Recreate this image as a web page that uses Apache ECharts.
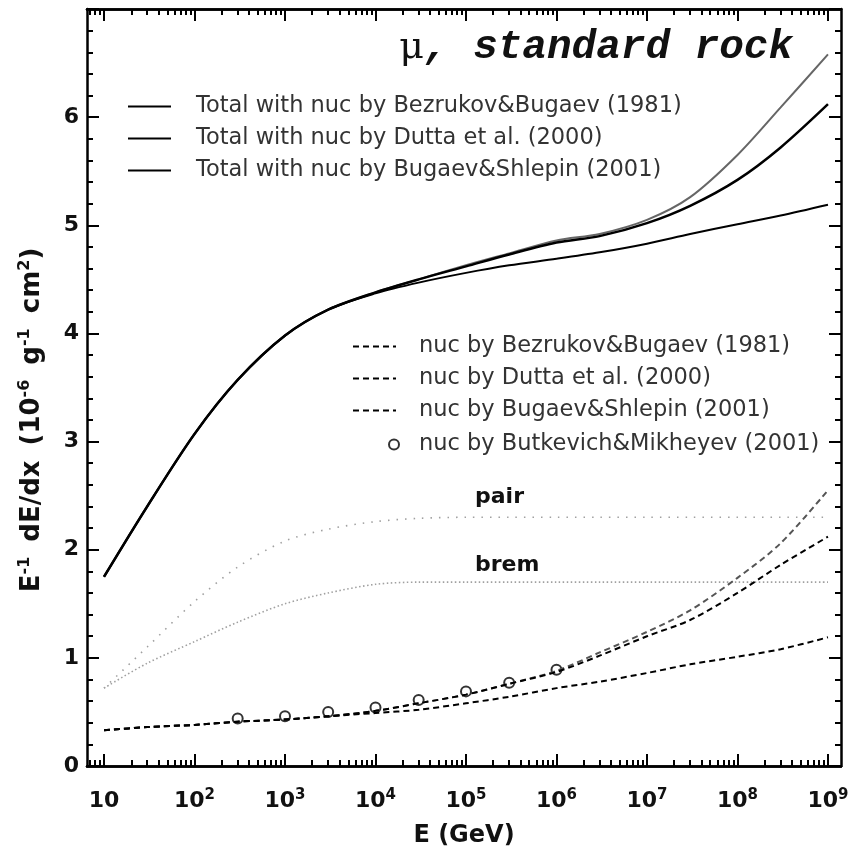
<!DOCTYPE html>
<html>
<head>
<meta charset="utf-8">
<title>mu, standard rock</title>
<script src="https://cdn.jsdelivr.net/npm/echarts@6/dist/echarts.min.js"></script>
<style>
  html, body { margin: 0; padding: 0; background: #fff; }
  #chart { width: 852px; height: 849px; }
</style>
</head>
<body>
<div id="chart"></div>
<script>
// energies (GeV) shared by all curves
var energyGeV = [1e1, 3e1, 1e2, 3e2, 1e3, 3e3, 1e4, 3e4, 1e5, 3e5, 1e6, 3e6, 1e7, 3e7, 1e8, 3e8, 1e9];

// totals  (10^-6 g^-1 cm^2)
var totalBezrukov = [1.75, 2.40, 3.07, 3.57, 3.98, 4.22, 4.38, 4.50, 4.63, 4.74, 4.86, 4.92, 5.05, 5.26, 5.65, 6.09, 6.58];
var totalDutta    = [1.75, 2.40, 3.07, 3.57, 3.98, 4.22, 4.38, 4.50, 4.62, 4.73, 4.84, 4.90, 5.02, 5.18, 5.42, 5.72, 6.12];
var totalBugaev   = [1.75, 2.40, 3.07, 3.57, 3.98, 4.22, 4.37, 4.47, 4.56, 4.63, 4.69, 4.75, 4.83, 4.92, 5.01, 5.09, 5.19];

// photonuclear parts
var nucBezrukov = [0.33, 0.36, 0.38, 0.41, 0.43, 0.46, 0.51, 0.58, 0.66, 0.76, 0.88, 1.05, 1.24, 1.44, 1.74, 2.06, 2.55];
var nucDutta    = [0.33, 0.36, 0.38, 0.41, 0.43, 0.46, 0.51, 0.58, 0.66, 0.76, 0.87, 1.02, 1.20, 1.35, 1.60, 1.86, 2.12];
var nucBugaev   = [0.33, 0.36, 0.38, 0.41, 0.43, 0.46, 0.49, 0.52, 0.58, 0.64, 0.72, 0.78, 0.86, 0.94, 1.01, 1.08, 1.19];

// pair production and bremsstrahlung
var pairLoss = [0.72, 1.10, 1.52, 1.84, 2.08, 2.19, 2.26, 2.29, 2.30, 2.30, 2.30, 2.30, 2.30, 2.30, 2.30, 2.30, 2.30];
var bremLoss = [0.72, 0.95, 1.15, 1.33, 1.50, 1.60, 1.68, 1.70, 1.70, 1.70, 1.70, 1.70, 1.70, 1.70, 1.70, 1.70, 1.70];

// Butkevich&Mikheyev points
var butkevichE   = [3e2, 1e3, 3e3, 1e4, 3e4, 1e5, 3e5, 1e6];
var butkevichVal = [0.44, 0.46, 0.50, 0.54, 0.61, 0.69, 0.77, 0.89];

// axis ticks
var decadeTicks = [1, 2, 3, 4, 5, 6, 7, 8, 9];
var xMin = 0.812, xMax = 9.144;

var totalNames = ['Total with nuc by Bezrukov&Bugaev (1981)', 'Total with nuc by Dutta et al. (2000)', 'Total with nuc by Bugaev&Shlepin (2001)'];
var nucNames = ['nuc by Bezrukov&Bugaev (1981)', 'nuc by Dutta et al. (2000)', 'nuc by Bugaev&Shlepin (2001)'];
var pointName = 'nuc by Butkevich&Mikheyev (2001)';

function toPairs(es, vals) {
    var out = [];
    for (var i = 0; i < es.length; i++) {
        out.push([Math.log10(es[i]), vals[i]]);
    }
    return out;
}

// minor ticks 2..9 x 10^k
var minorTicks = [];
for (var k = 0; k <= 9; k++) {
    for (var m = 2; m <= 9; m++) {
        var lv = Math.log10(m * Math.pow(10, k));
        if (lv > xMin && lv < xMax) minorTicks.push(lv);
    }
}

var font = 'DejaVu Sans';
var axisLine = {show: true, lineStyle: {color: '#000', width: 2.5}};

function xAxisDef(pos, ticks, len, withLabels) {
    return {
        type: 'value', position: pos, min: xMin, max: xMax,
        axisLine: axisLine,
        splitLine: {show: false},
        axisTick: {show: true, inside: true, length: len, customValues: ticks, lineStyle: {color: '#000', width: 2}},
        axisLabel: withLabels ? {
            show: true, customValues: decadeTicks, margin: 22,
            formatter: function (v) {
                var p = Math.round(v);
                return p === 1 ? '{b|10}' : '{b|10}{s|' + p + '}';
            },
            rich: {
                b: {fontFamily: font, fontWeight: 'bold', fontSize: 22, lineHeight: 26, color: '#111'},
                s: {fontFamily: font, fontWeight: 'bold', fontSize: 15, lineHeight: 15, verticalAlign: 'top', color: '#111'}
            }
        } : {show: false}
    };
}

function yAxisDef(pos, withLabels) {
    return {
        type: 'value', position: pos, min: 0, max: 7, interval: 1,
        axisLine: axisLine,
        splitLine: {show: false},
        axisTick: {show: true, inside: true, length: 12, lineStyle: {color: '#000', width: 2}},
        minorTick: {show: true, splitNumber: 5, length: 6, lineStyle: {color: '#000', width: 2}},
        axisLabel: withLabels ? {
            show: true, margin: 8, fontFamily: font, fontWeight: 'bold', fontSize: 22, color: '#111',
            showMaxLabel: false
        } : {show: false}
    };
}

var xAxes = [
    xAxisDef('bottom', decadeTicks, 12, true),
    xAxisDef('bottom', minorTicks, 6, false),
    xAxisDef('top', decadeTicks, 12, false),
    xAxisDef('top', minorTicks, 6, false)
];
xAxes[0].name = 'E (GeV)';
xAxes[0].nameLocation = 'middle';
xAxes[0].nameGap = 58;
xAxes[0].nameTextStyle = {fontFamily: font, fontWeight: 'bold', fontSize: 24, color: '#111'};

function lineSeries(name, data, color, width, type) {
    return {
        name: name, type: 'line', data: toPairs(energyGeV, data),
        symbol: 'none', showSymbol: false, smooth: 0.3,
        lineStyle: {color: color, width: width, type: type},
        itemStyle: {color: color},
        silent: true, animation: false
    };
}

var series = [
    lineSeries('pair', pairLoss, '#a0a0a0', 1.6, [1.5, 7]),
    lineSeries('brem', bremLoss, '#a0a0a0', 1.6, [1.5, 2.5]),
    lineSeries(nucNames[0], nucBezrukov, '#555', 2, [6, 4]),
    lineSeries(nucNames[1], nucDutta, '#000', 2, [6, 4]),
    lineSeries(nucNames[2], nucBugaev, '#000', 2, [6, 4]),
    lineSeries(totalNames[0], totalBezrukov, '#666', 2, 'solid'),
    lineSeries(totalNames[1], totalDutta, '#000', 2.5, 'solid'),
    lineSeries(totalNames[2], totalBugaev, '#000', 2, 'solid'),
    {
        name: pointName, type: 'scatter', data: toPairs(butkevichE, butkevichVal),
        symbol: 'emptyCircle', symbolSize: 10,
        itemStyle: {color: '#000', borderWidth: 1.5},
        animation: false
    }
];

var legendText = {fontFamily: font, fontSize: 22.5, lineHeight: 25, color: '#333'};

var supStyle = {fontFamily: font, fontWeight: 'bold', fontSize: 16, lineHeight: 16, verticalAlign: 'top', fill: '#111', color: '#111'};

var option = {
    backgroundColor: '#fff',
    animation: false,
    grid: {left: 87, top: 9, width: 754, height: 757, outerBoundsMode: 'none', containLabel: false},
    xAxis: xAxes,
    yAxis: [yAxisDef('left', true), yAxisDef('right', false)],
    legend: [
        {
            data: totalNames, orient: 'vertical', left: 127, top: 94, padding: 0,
            itemWidth: 43, itemHeight: 14, itemGap: 7, selectedMode: false,
            itemStyle: {opacity: 0},
            lineStyle: {color: '#000', width: 2},
            textStyle: Object.assign({padding: [0, 0, 0, 20]}, legendText)
        },
        {
            data: nucNames, orient: 'vertical', left: 352, top: 334, padding: 0,
            itemWidth: 43, itemHeight: 14, itemGap: 7, selectedMode: false,
            itemStyle: {opacity: 0},
            lineStyle: {color: '#000', width: 2},
            textStyle: Object.assign({padding: [0, 0, 0, 18]}, legendText)
        },
        {
            data: [pointName], orient: 'vertical', left: 388, top: 432, padding: 0,
            itemWidth: 10, itemHeight: 10, selectedMode: false,
            textStyle: Object.assign({padding: [0, 0, 0, 15]}, legendText)
        }
    ],
    graphic: [
        {
            type: 'text', x: 793, y: 48, z: 10,
            style: {
                text: '{m|\u03bc}{c|, standard rock}',
                align: 'right', textAlign: 'right', verticalAlign: 'middle', textVerticalAlign: 'middle',
                rich: {
                    m: {fontFamily: 'DejaVu Serif', fontSize: 38, fill: '#111', color: '#111'},
                    c: {fontFamily: 'Liberation Mono', fontWeight: 'bold', fontStyle: 'italic', fontSize: 41, fill: '#111', color: '#111'}
                }
            }
        },
        {
            type: 'text', x: 475, y: 497, z: 10,
            style: {text: 'pair', font: 'bold 22px "DejaVu Sans"', fill: '#111', verticalAlign: 'middle', textVerticalAlign: 'middle'}
        },
        {
            type: 'text', x: 475, y: 565, z: 10,
            style: {text: 'brem', font: 'bold 22px "DejaVu Sans"', fill: '#111', verticalAlign: 'middle', textVerticalAlign: 'middle'}
        },
        {
            type: 'text', x: 32, y: 420, rotation: Math.PI / 2, z: 10,
            style: {
                text: '{b|E}{s|-1}{g| }{b|dE/dx}{g| }{b|(10}{s|-6}{g| }{b|g}{s|-1}{g| }{b|cm}{s|2}{b|)}',
                align: 'center', textAlign: 'center', verticalAlign: 'middle', textVerticalAlign: 'middle',
                rich: {
                    b: {fontFamily: font, fontWeight: 'bold', fontSize: 26, lineHeight: 30, fill: '#111', color: '#111'},
                    g: {fontFamily: font, fontWeight: 'bold', fontSize: 26, lineHeight: 30, width: 15},
                    s: supStyle
                }
            }
        }
    ],
    series: series
};

var chart = echarts.init(document.getElementById('chart'), null, {renderer: 'canvas'});
chart.setOption(option);
</script>
</body>
</html>
